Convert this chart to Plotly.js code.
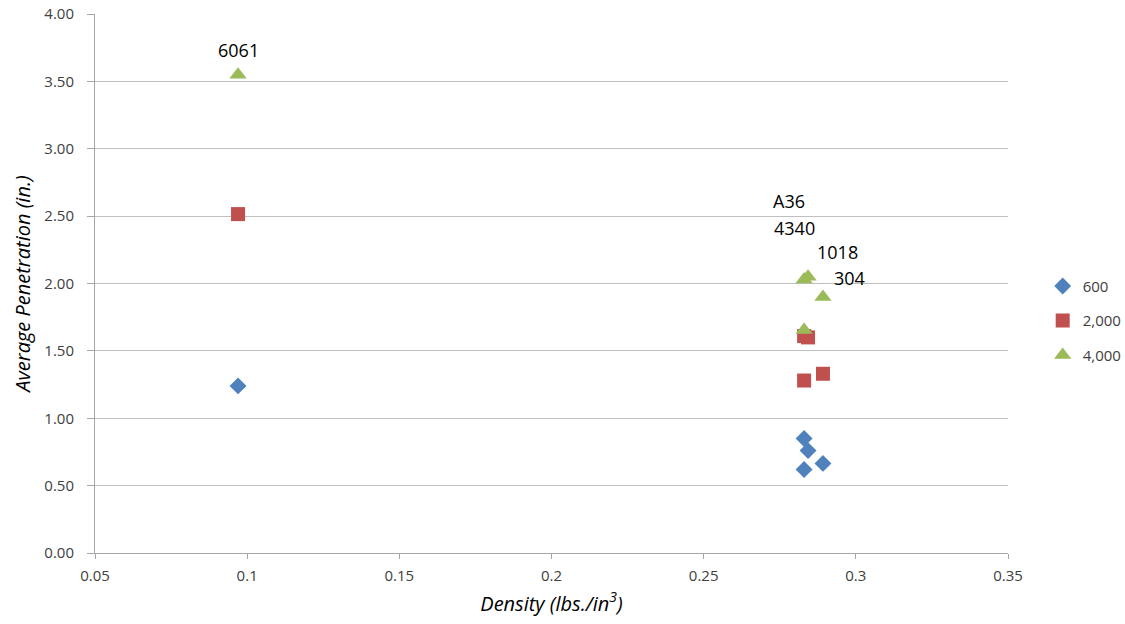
<!DOCTYPE html>
<html>
<head>
<meta charset="utf-8">
<script src="https://cdn.plot.ly/plotly-3.0.1.min.js"></script>
<style>html,body{margin:0;padding:0;background:#fff;}#chart{width:1125px;height:624px;}</style>
</head>
<body>
<div id="chart"></div>
<script>
// Materials and their densities (lbs./in^3)
const materials = ['6061', 'A36', '4340', '1018', '304'];
const density = [0.097, 0.283, 0.283, 0.2843, 0.2892];
// Average penetration (in.) per velocity series
const pen600 = [1.24, 0.85, 0.62, 0.76, 0.665];
const pen2000 = [2.515, 1.61, 1.28, 1.60, 1.33];
const pen4000 = [3.55, 2.03, 1.655, 2.05, 1.90];
const seriesNames = ['600', '2,000', '4,000'];
const yTickVals = [0, 0.5, 1, 1.5, 2, 2.5, 3, 3.5, 4];
const yTickText = ['0.00', '0.50', '1.00', '1.50', '2.00', '2.50', '3.00', '3.50', '4.00'];
const xTickVals = [0.05, 0.1, 0.15, 0.2, 0.25, 0.3, 0.35];
const xTickText = ['0.05', '0.1', '0.15', '0.2', '0.25', '0.3', '0.35'];

// label placement offsets in px relative to 4,000 series points (style only)
const labelShift = [[0, 25], [-15, 78], [-10, 102], [29, 25], [27, 19]];

const font = '"Open Sans", sans-serif';
const traces = [
  {x: density, y: pen600, name: seriesNames[0], legendgroup: 'a', mode: 'markers', type: 'scatter',
   marker: {symbol: 'diamond', size: 13, color: '#4f81bd'}},
  {x: density, y: pen2000, name: seriesNames[1], legendgroup: 'b', mode: 'markers', type: 'scatter',
   marker: {symbol: 'square', size: 14, color: '#c0504d'}},
  {x: density, y: pen4000, name: seriesNames[2], legendgroup: 'c', mode: 'markers', type: 'scatter',
   marker: {symbol: 'triangle-up', size: 15, color: '#9bbb59'}}
];

const annotations = materials.map((m, i) => ({
  x: density[i], y: pen4000[i], xref: 'x', yref: 'y', text: m, showarrow: false,
  xshift: labelShift[i][0], yshift: labelShift[i][1],
  font: {family: font, size: 18, color: '#000'}
}));

const layout = {
  width: 1125, height: 624,
  margin: {l: 95, r: 117, t: 14, b: 71, pad: 0, autoexpand: false},
  paper_bgcolor: '#fff', plot_bgcolor: '#fff',
  font: {family: font, size: 15, color: '#404040'},
  showlegend: true,
  legend: {x: 1.038, y: 0.431, xanchor: 'left', yanchor: 'middle', tracegroupgap: 12,
    font: {family: font, size: 15, color: '#404040'}, itemwidth: 30},
  xaxis: {
    range: [0.05, 0.35], tickvals: xTickVals, ticktext: xTickText,
    showgrid: false, zeroline: false, showline: true, linecolor: '#a6a6a6', linewidth: 1,
    ticks: 'outside', ticklen: 5, tickcolor: '#a6a6a6', ticklabelstandoff: 4,
    tickfont: {family: font, size: 15, color: '#404040'},
    title: {text: '<i>Density (lbs./in<sup>3</sup>)</i>', font: {family: font, size: 20, color: '#000'}, standoff: 12}
  },
  yaxis: {
    range: [0, 4], tickvals: yTickVals, ticktext: yTickText,
    showgrid: true, gridcolor: '#bfbfbf', gridwidth: 1, zeroline: false,
    showline: true, linecolor: '#a6a6a6', linewidth: 1,
    ticks: 'outside', ticklen: 7, tickcolor: '#a6a6a6', ticklabelstandoff: 10,
    tickfont: {family: font, size: 15, color: '#404040'},
    title: {text: '<i>Average Penetration (in.)</i>', font: {family: font, size: 20, color: '#000'}, standoff: 8}
  },
  annotations: annotations
};

Plotly.newPlot('chart', traces, layout, {displayModeBar: false, staticPlot: true});
</script>
</body>
</html>
